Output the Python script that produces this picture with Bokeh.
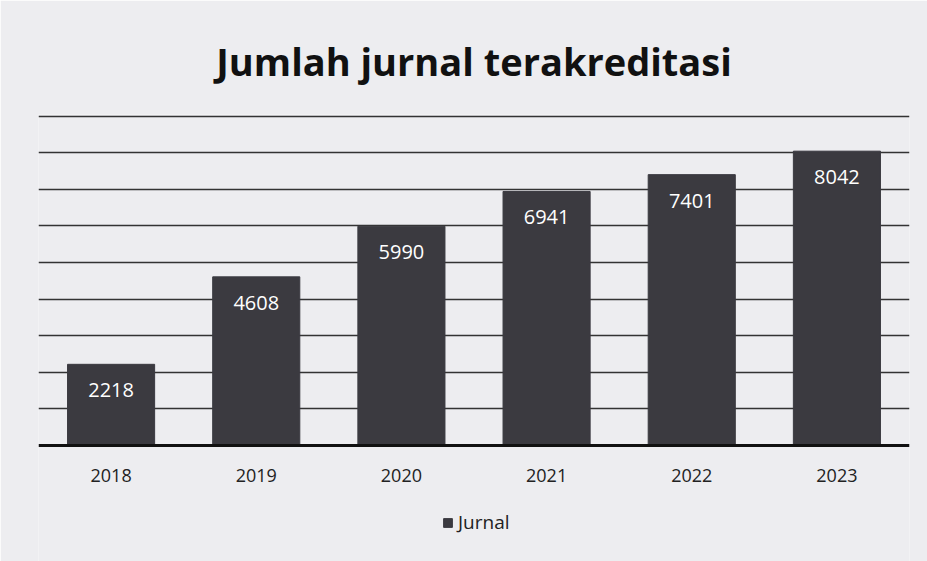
from bokeh.plotting import figure
from bokeh.models import ColumnDataSource, Legend, LegendItem, Range1d, FixedTicker, Span
from bokeh.core.properties import value
from bokeh.embed import file_html
from bokeh.resources import INLINE

years = ["2018", "2019", "2020", "2021", "2022", "2023"]
journals = [2218, 4608, 5990, 6941, 7401, 8042]
labels = [str(v) for v in journals]
grid_values = [1000, 2000, 3000, 4000, 5000, 6000, 7000, 8000, 9000]
title_text = "Jumlah jurnal terakreditasi"
series_name = "Jurnal"

BG = "#ededf0"
BAR = "#3b3a40"
FONT = "Open Sans"

src = ColumnDataSource(dict(x=years, top=journals, label=labels))
cat_src = ColumnDataSource(dict(x=years, y=[0] * len(years), label=years))

p = figure(x_range=years, y_range=Range1d(-3170, 9044), width=927, height=561,
           output_backend="svg", toolbar_location=None,
           background_fill_color=BG, border_fill_color=BG,
           min_border_left=38, min_border_right=18, min_border_top=114, min_border_bottom=0)
p.outline_line_color = None
p.xaxis.visible = False
p.yaxis.visible = False
p.xgrid.visible = False
p.ygrid.ticker = FixedTicker(ticks=grid_values)
p.ygrid.grid_line_color = "#333333"
p.ygrid.grid_line_width = 1.5

r = p.vbar(x="x", top="top", width=0.6, source=src, fill_color=BAR, line_color=BAR)
p.text(x="x", y="top", text="label", source=src, text_color="white",
       text_font=value(FONT), text_font_size="20px", text_align="center",
       text_baseline="top", y_offset=19)

baseline = Span(location=0, dimension="width", line_color="#111111", line_width=3)
p.add_layout(baseline)

p.text(x="x", y="y", text="label", source=cat_src, text_color="#222222",
       text_font=value(FONT), text_font_size="18px", text_align="center",
       text_baseline="top", y_offset=24)

p.title.text = title_text
p.title.align = "center"
p.title.text_font = FONT
p.title.text_font_size = "38px"
p.title.text_font_style = "bold"
p.title.text_color = "#111111"
p.title.standoff = 55

legend = Legend(items=[LegendItem(label=series_name, renderers=[r])],
                location=(404, 26), orientation="horizontal",
                background_fill_alpha=0, border_line_color=None,
                glyph_width=11, glyph_height=11, label_text_font=FONT,
                label_text_font_size="19px", label_text_color="#222222",
                label_standoff=5, padding=0, margin=0)
p.add_layout(legend, "center")

open("out.html", "w").write(file_html(p, INLINE))
